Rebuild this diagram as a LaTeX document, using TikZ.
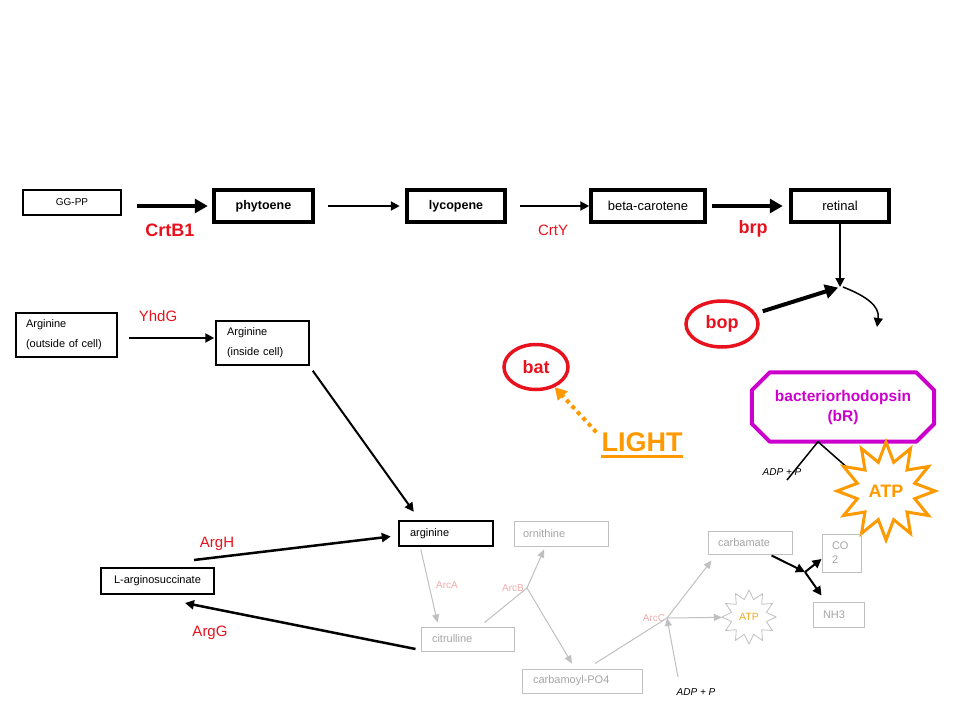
\documentclass[tikz,border=0pt]{standalone}
\usepackage{fontspec}
\setmainfont{Liberation Sans}
\usetikzlibrary{positioning,arrows.meta,shapes.geometric,calc}

\definecolor{enzred}{RGB}{232,18,30}
\definecolor{lightor}{RGB}{255,153,0}
\definecolor{brmag}{RGB}{204,0,204}
\definecolor{boxgray}{RGB}{192,192,192}
\definecolor{txtgray}{RGB}{165,165,165}
\definecolor{arcpink}{RGB}{240,170,170}
\definecolor{atptxt}{RGB}{240,170,40}

\begin{document}
\begin{tikzpicture}[x=1pt, y=-1pt,
    thin box/.style = {draw, line width=1.5pt, inner ysep=0pt, font=\fontsize{11}{20}\selectfont},
    pathbox/.style = {draw, line width=3.5pt, minimum height=32pt, inner sep=0pt, font=\bfseries\fontsize{12.5}{15}\selectfont},
    faint/.style = {draw=boxgray, line width=1pt, text=txtgray, inner ysep=0pt, align=left, font=\fontsize{11}{14}\selectfont},
    enz/.style = {text=enzred, font=\fontsize{15}{18}\selectfont},
    bigenz/.style = {text=enzred, font=\bfseries\fontsize{18}{21}\selectfont},
    gene/.style = {draw=enzred, ellipse, line width=3.5pt, text=enzred, font=\bfseries\fontsize{18}{21}\selectfont},
    arclabel/.style = {text=arcpink, font=\fontsize{10}{12}\selectfont},
    adp/.style = {font=\itshape\fontsize{10}{12}\selectfont},
    fat/.style = {line width=4.5pt, -{Triangle[length=13pt,width=14pt]}},
    conv/.style = {line width=2pt, -{Triangle[length=9pt,width=9pt]}},
    faintarrow/.style = {draw=boxgray, line width=1pt, -{Triangle[length=8pt,width=7pt]}}]
\useasboundingbox (0,0) rectangle (960,720);

% retinal pathway
\node[thin box, minimum width=98pt, minimum height=25pt, font=\fontsize{10}{12}\selectfont] (ggpp) at (72,202.5) {GG-PP};
\node[pathbox, minimum width=99pt] (phy) at (263.5,206) {phytoene};
\node[pathbox, minimum width=98pt] (lyc) at (456,206) {lycopene};
\node[pathbox, minimum width=114pt, font=\fontsize{13}{15}\selectfont] (beta) at (648,206) {beta-carotene};
\node[pathbox, minimum width=98pt, font=\fontsize{13}{15}\selectfont] (ret) at (840,206) {retinal};
\draw[fat, shorten <=15pt, shorten >=4.5pt] (ggpp.east |- phy.west) -- (phy.west);
\draw[conv, shorten <=13.5pt, shorten >=5.5pt] (phy) -- (lyc);
\draw[conv, shorten <=13.5pt] (lyc) -- (beta);
\draw[fat, shorten <=5.5pt, shorten >=6.5pt] (beta) -- (ret);
\node[bigenz] (crtb) at (170,230) {CrtB1};
\node[enz] (crty) at (553,230) {CrtY};
\node[bigenz] (brp) at (753,229) {brp};

% bacteriorhodopsin
\coordinate (join) at (840,287);
\coordinate (out) at (877,327);
\node[gene, minimum width=72pt, minimum height=46pt] (bop) at (722,324) {bop};
\node[gene, minimum width=64pt, minimum height=45pt] (bat) at (536,367) {bat};
\draw[conv, line width=1.8pt] (ret.south) -- (join);
\draw[fat, line width=4pt, shorten <=7pt, shorten >=2pt] (bop) -- (join);
\draw[conv, line width=1.5pt] ([xshift=3pt]join) .. controls (866,296) and (880,306) .. (out);
\node[text=lightor, font=\bfseries\fontsize{27}{30}\selectfont, inner sep=0pt] (light) at (642,442) {LIGHT};
\draw[lightor, line width=2.5pt] ($(light.base west)+(0,5)$) -- ($(light.base east)+(0,5)$);
\draw[lightor, line width=4pt, dash pattern=on 4pt off 4pt, -{Triangle[length=12pt,width=13pt]}] ([xshift=-5pt]light.north west) -- (bat);
\node[text=brmag, align=center, font=\bfseries\fontsize{15.5}{20}\selectfont, minimum width=182pt, minimum height=69pt] (br) at (843,407) {bacteriorhodopsin\\(bR)};
\draw[brmag, line width=4pt, line join=round] ($(br.north west)+(18,0)$) -- ($(br.north east)+(-18,0)$) -- ($(br.north east)+(0,18)$) -- ($(br.south east)+(0,-18)$) -- ($(br.south east)+(-18,0)$) -- ($(br.south west)+(18,0)$) -- ($(br.south west)+(0,-18)$) -- ($(br.north west)+(0,18)$) -- cycle;
\node[adp] (adpa) at (782,472) {ADP + P};
\coordinate (adpin) at (787,480);
\coordinate (atpout) at (858,477);
\draw[line width=1.5pt] (adpin) -- ([xshift=-25pt]br.south) -- (atpout);
\node[star, star points=12, star point ratio=1.65, minimum size=98pt, draw=lightor, fill=white, line width=3pt, text=lightor, font=\bfseries\fontsize{18}{21}\selectfont, inner sep=0pt] (atpb) at (886,491) {ATP};

% arginine
\node[thin box, text width=81pt, inner xsep=10pt, minimum height=44pt, align=left] (argout) at (66.5,335) {Arginine\\(outside of cell)};
\node[thin box, text width=71pt, inner xsep=11pt, minimum height=44pt, align=left] (argin) at (262.5,343) {Arginine\\(inside cell)};
\node[thin box, line width=2.5pt, text width=72pt, inner xsep=11pt, minimum height=25pt, align=left] (arg) at (446,533.5) {arginine};
\node[thin box, line width=2pt, minimum width=113pt, minimum height=26pt] (lsucc) at (157.5,581) {L-arginosuccinate};
\node[enz] (yhdg) at (158,316) {YhdG};
\node[enz] (argh) at (217,544) {ArgH};
\node[enz] (argg) at (210,633) {ArgG};
\draw[conv] ($(argout.east)+(11,3)$) -- ($(argin.west)+(-1,-5)$);
\draw[conv] ($(argin.south east)+(3,5)$) -- ($(arg.north west)+(16,-8)$);
\draw[conv, line width=2.5pt] ($(lsucc.north east)+(-21,-7)$) -- ($(arg.west)+(-7,3)$);

% arc pathway
\node[faint, text width=76pt, inner xsep=9pt, minimum height=25pt] (orn) at (561,533.5) {ornithine};
\node[faint, text width=71pt, inner xsep=11pt, minimum height=24pt] (cit) at (467.5,639) {citrulline};
\node[faint, text width=98pt, inner xsep=11pt, minimum height=24pt] (carbp) at (582,681) {carbamoyl-PO4};
\node[faint, text width=64pt, inner xsep=10pt, minimum height=23pt] (carb) at (750,542.5) {carbamate};
\node[faint, text width=19pt, inner xsep=10pt, minimum height=38pt] (co2) at (841.5,553) {CO\\2};
\node[faint, text width=31pt, inner xsep=10pt, minimum height=25pt] (nh3) at (838.5,614.5) {NH3};
\node[star, star points=12, star point ratio=1.5, minimum size=54pt, draw=boxgray, line width=0.8pt, text=atptxt, font=\fontsize{10.5}{12}\selectfont, inner sep=0pt] (atpg) at (749,617) {ATP};
\node[adp] (adpb) at (696,692) {ADP + P};
\node[arclabel] (arca) at (447,585) {ArcA};
\node[arclabel] (arcbl) at (513,588) {ArcB};
\node[arclabel] (arccl) at (654,618) {ArcC};
\coordinate (arcb) at (527,588);
\coordinate (arcc) at (667,618);
\coordinate (split) at (805,572);
\draw[conv, line width=2.5pt] ($(cit.west)+(-5,10)$) -- ($(lsucc.south east)+(-30,8)$);
\draw[faintarrow] ($(arg.south west)+(23,2)$) -- ($(cit.north west)+(17,-4)$);
\draw[faintarrow] ($(cit.north)+(17,-4)$) -- (arcb) -- ($(orn.south)+(-17,3)$);
\draw[faintarrow] (arcb) -- ($(carbp.north)+(-10,-5)$);
\draw[faintarrow] ($(carbp.north)+(13,-5)$) -- (arcc) -- ($(carb.south west)+(4,6)$);
\draw[faintarrow] (arcc) -- (atpg);
\draw[faintarrow] ($(adpb.north)+(-18,-8)$) -- (arcc);
\draw[conv] ($(carb.south east)+(-21,1)$) -- (split);
\draw[conv] (split) -- ($(co2.west)+(0,6)$);
\draw[conv] (split) -- ($(nh3.north west)+(9,-6)$);
\end{tikzpicture}
\end{document}
